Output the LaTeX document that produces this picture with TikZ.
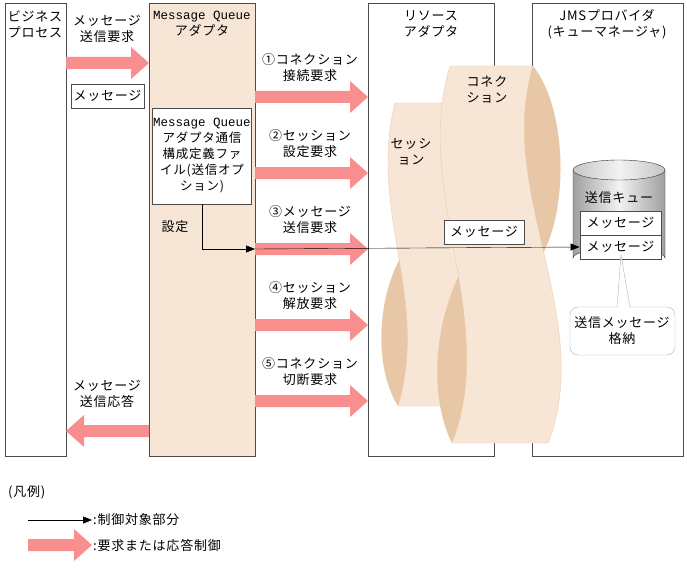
\documentclass[tikz,border=0pt]{standalone}
\usepackage{fontspec}
\setmainfont{Noto Sans CJK JP}[LetterSpace=6]
\newfontfamily\monofnt{Liberation Mono}
\usetikzlibrary{arrows.meta,shadings}
\definecolor{peach}{HTML}{F7E6D6}
\definecolor{peachln}{HTML}{EBCBAA}
\definecolor{lens}{HTML}{E8C7A6}
\definecolor{fat}{HTML}{F98E8E}
\newcommand{\fatR}[3]{\fill[fat] (#1,#3-6) -- (#2-18,#3-6) -- (#2-18,#3-16) -- (#2,#3) -- (#2-18,#3+16) -- (#2-18,#3+6) -- (#1,#3+6) -- cycle;}
\newcommand{\fatL}[3]{\fill[fat] (#1,#3-6) -- (#2+18,#3-6) -- (#2+18,#3-16) -- (#2,#3) -- (#2+18,#3+16) -- (#2+18,#3+6) -- (#1,#3+6) -- cycle;}
\begin{document}
\begin{tikzpicture}[x=1pt,y=-1pt,font=\fontsize{13}{16}\selectfont,
  col/.style={draw=black!70,line width=0.8pt},
  lbl/.style={align=center,inner sep=0pt},
  mbox/.style={draw=black!70,fill=white,line width=0.8pt,minimum width=80pt,minimum height=24pt,inner sep=0pt}]
\useasboundingbox (0,0) rectangle (687,567);
% columns
\draw[col] (5,3) rectangle (66,456);
\draw[col,fill=peach] (149,3) rectangle (255,456);
\draw[col] (368,3) rectangle (494,456);
\draw[col] (532,3) rectangle (683,456);
\node[lbl] (bp) at (35,24) {ビジネス\\プロセス};
\node[lbl] (mqa) at (202,24) {{\monofnt\fontsize{12.5}{16}\selectfont Message Queue}\\アダプタ};
\node[lbl] (ra) at (431,24) {リソース\\アダプタ};
\node[lbl] (jms) at (607,24) {JMSプロバイダ\\(キューマネージャ)};
% request arrows
\node[lbl] (l0) at (107,29) {メッセージ\\送信要求};
\fatR{66}{149}{63}
\node[mbox,minimum width=73pt] (m0) at (107.5,96) {メッセージ};
\foreach \y/\t/\s in {97/①コネクション/接続要求,173/②セッション/設定要求,249/③メッセージ/送信要求,325/④セッション/解放要求,401/⑤コネクション/切断要求}{
  \fatR{255}{368}{\y}
  \node[lbl] at (310,\y-29) {\t\\\s};
}
\node[lbl] (l6) at (107,394) {メッセージ\\送信応答};
\fatL{149}{66}{431}
% ribbons
\fill[lens] (403,253) .. controls (375,300) and (375,370) .. (398,406) .. controls (420,370) and (420,300) .. (403,253);
\draw[peachln,fill=peach] (395,103) .. controls (368,210) and (430,300) .. (398,406) -- (473,406) .. controls (505,300) and (443,210) .. (470,103) -- cycle;
\fill[lens] (470,255) .. controls (430,320) and (430,400) .. (452,443) .. controls (480,400) and (480,320) .. (470,255);
\fill[lens] (533,66) .. controls (568,110) and (568,210) .. (542,255) .. controls (500,210) and (500,110) .. (533,66);
\draw[peachln,fill=peach] (450,66) .. controls (412,190) and (500,320) .. (452,443) -- (548,443) .. controls (596,320) and (495,190) .. (533,66) -- cycle;
\node[lbl] (cn) at (487,90) {コネク\\ション};
\node[lbl] (ss) at (411,152) {セッシ\\ョン};
% cylinder
\shade[left color=gray!75,right color=gray!75,middle color=gray!10]
  (573,170) -- (573,258) arc[start angle=180,end angle=360,x radius=46,y radius=10] -- (665,170) -- cycle;
\draw[black!80] (573,170) -- (573,258) arc[start angle=180,end angle=360,x radius=46,y radius=10] -- (665,170);
\shade[draw=black!80,left color=gray!45,right color=gray!45,middle color=gray!10] (619,170) ellipse[x radius=46,y radius=10];
\node[lbl] (q) at (619,198) {送信キュー};
\node[mbox,minimum width=81pt] (q1) at (620.5,223) {メッセージ};
\node[mbox,minimum width=81pt] (q2) at (620.5,247) {メッセージ};
% callout
\draw[gray!60,fill=white,rounded corners=8pt] (570,307) rectangle (675,355);
\fill[white] (617,309) -- (621,255) -- (630,309) -- cycle;
\draw[gray!60] (617,307.5) -- (621,255) -- (630,307.5);
\node[lbl] (cl) at (622,331) {送信メッセージ\\格納};
% config file
\node[draw=black!70,fill=white,line width=0.8pt,minimum width=96pt,minimum height=96pt,inner sep=1pt,align=center,font=\fontsize{12.5}{16}\selectfont] (cfg) at (202,156) {{\monofnt Message Queue}\\アダプタ通信\\構成定義ファ\\イル(送信オプ\\ション)};
\node[lbl] (set) at (175,227) {設定};
\coordinate (bend) at (202,249);
\coordinate (edge) at (255,249);
\draw[black,-{Triangle[length=9pt,width=7pt]}] (cfg.south) -- (bend) -- (edge);
\draw[black,-{Triangle[length=9pt,width=7pt]}] (edge) -- (q2.west);
\node[mbox] (m1) at (484,232) {メッセージ};
% legend
\node[lbl,anchor=west] (lg) at (8,492) {(凡例)};
\coordinate (a1) at (28,520); \coordinate (a2) at (92,520);
\draw[black,-{Triangle[length=9pt,width=7pt]}] (a1) -- (a2);
\node[lbl,anchor=west] (t1) at (93,520) {:制御対象部分};
\fatR{28}{92}{545}
\node[lbl,anchor=west] (t2) at (93,545) {:要求または応答制御};
\end{tikzpicture}
\end{document}
